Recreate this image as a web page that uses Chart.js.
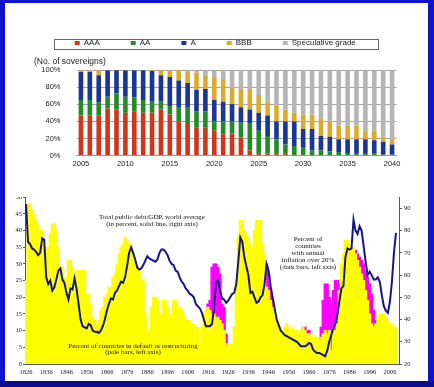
<!DOCTYPE html>
<html><head><meta charset="utf-8">
<script src="https://cdn.jsdelivr.net/npm/chart.js@4"></script>
<style>
html,body{margin:0;padding:0;background:#fff;}
#frame{position:absolute;left:0;top:0;width:434px;height:387px;background:#1212cc;}
#frame:after{content:"";position:absolute;left:0;top:381px;width:434px;height:6px;background:#0c0c8c;}
#inner{position:absolute;left:5px;top:3px;width:423px;height:378px;background:#fff;overflow:hidden;}
#top{position:absolute;left:0;top:0;}
#botwrap{position:absolute;left:0;top:193.5px;width:423px;height:184.5px;overflow:hidden;}
#bot{position:absolute;left:0;top:-12.5px;}
</style></head>
<body>
<div id="frame"><div id="inner">
<canvas id="top" width="423" height="173"></canvas>
<div id="botwrap"><canvas id="bot" width="423" height="197"></canvas></div>
</div></div>
<script>
// ---------- Top chart: sovereign ratings (%) ----------
const ratingYears = [2005,2006,2007,2008,2009,2010,2011,2012,2013,2014,2015,2016,2017,2018,2019,2020,2021,2022,2023,2024,2025,2026,2027,2028,2029,2030,2031,2032,2033,2034,2035,2036,2037,2038,2039,2040];
const aaa  = [47,47,47,55,54,50,52,50,50,54,48,40,38,33,33,29,25,26,21,6,2,2,2,2,0,0,0,0,0,0,0,0,0,0,0,0];
const aa   = [18,18,15,14,19,19,16,15,13,9,10,16,18,19,19,11,15,14,17.5,32,27,21,17,11,11,10,6,6,5,4,3,3,3,2,1,1];
const singleA = [33,33,32,31,27,31,32,35,36,31,34,32,29,25,26,25,23,20,18,16,21,24,21,27,29,21,25,17,17,15,16,16,16,16,15,12];
const bbb  = [2,2,6,0,0,0,0,0,1,6,8,12,13,20,16,27,27,19,21.5,24,21,16,18,14,10,17,17,20,18,16,16,16,10,11,6,6];
const spec = [0,0,0,0,0,0,0,0,0,0,0,0,2,3,6,8,10,21,22,22,29,37,42,46,50,52,52,57,60,65,65,65,71,71,78,81];
const pctTicks = [0,10,20,30,40,50,60,70,80,90,100];

// ---------- Bottom chart: 1826-2009 ----------
const histYears = [];
for (let y = 1826; y <= 2010; y++) histYears.push(String(y));
const defaultPct = [
 25,48,48,46,45,43,42,40,40,35,
 35,35,39,42,42,40,35,29,29,26,
 26,31,31,29,26,28,28,28,28,28,
 21,21,18,14,13,12,13,16,17,20,
 21,23,23,26,27,30,33,35,36,38,
 37,36,35,33,30,29,28,25,25,15,
 10,10,17,20,20,19,15,15,19,19,
 17,15,15,19,19,17,17,16,15,13,
 13,13,12,12,11,11,6,11,15,16,
 17,16,15,15,14,14,13,12,10,6,
 6,6,6,11,25,38,43,43,40,39,
 38,36,35,40,43,43,43,36,33,23,
 22,19,17,16,14,12,11,10,11,12,
 11,10,11,10,10,9,10,11,10,9,
 9,9,8,8,8,7,8,9,10,9,
 10,4,10,10,12,22,30,33,37,37,
 35,35,35,33,31,29,27,25,22,19,
 15,12,11,12,14,15,15,15,14,13,
 12,12,11,11];
const n = null;
const inflationPct = [
 n,n,n,n,n,n,n,n,n,n, n,n,n,n,n,n,n,n,n,n, n,n,n,n,n,n,n,n,n,n,
 n,n,n,n,n,n,n,n,n,n, n,n,n,n,n,n,n,n,n,n, n,n,n,n,n,n,n,n,n,n,
 n,n,n,n,n,n,n,n,n,n, n,n,n,n,n,n,n,n,n,n, n,n,n,n,n,n,n,n,n,n,
 18,19,29,30,30,29,27,18,17,9,
 n,n,n,n,n,n,n,n,n,n,
 n,n,n,n,n,n,n,n,30,30,
 27,22,19,n,n,n,n,n,n,n,
 n,n,n,n,n,n,n,11,11,10,
 10,n,n,n,n,n,11,19,24,24,
 20,18,22,25,25,24,22,n,n,n,
 n,n,34,34,33,32,31,30,28,26,
 24,21,16,13,n,n,n,n,n,n,
 n,n,n,n];
const debtGdp = [
 92,75,74,72,71.5,70.5,69,70,76.5,76,
 59,56,57.5,53,54.5,58,62,63,58,56.5,
 52,49,54,53.5,58.5,54,47,40,37,36.5,
 36,38,37.5,35,34.5,34.5,34,35,37,40,
 44,47,49.5,49,52,53,55,57,56.5,59,
 64,70,72.5,70,67,63.5,62.5,63,64.5,66.5,
 68.5,67.5,67,66.5,66,67,70,71.5,71.5,70.5,
 69,66.5,65,64.5,62,61.5,59,57,56,54,
 53,51.5,51,50,47,46,45,43,40,37,
 37,37,38,45,57,57.5,53,49.5,49,47.5,
 48.5,50,51.5,52,56,66,77,75,68,64,
 60,52,52.5,50,47.5,48,50,51,56,65,
 62,55,50,45,40,37.5,35,34,33,32.5,
 32,31.5,31,30.5,30,29,28,28,28,28.5,
 29.5,29,26.5,25.5,25,25,24.5,24,23.5,26,
 30,33,36,38,42,48,54,55,68,72,
 71.5,72,85,80,78.5,82,80,73,66,60,
 61.5,60,58,58,59,57,51,46,44,43,
 48,57,70,79];

const sans = 'Liberation Sans, Arial, sans-serif';
const serif = 'Liberation Serif, Times New Roman, serif';

const legendFrame = {
  id: 'legendFrame',
  afterDraw(chart) {
    const c = chart.ctx;
    c.save();
    c.strokeStyle = '#666';
    c.lineWidth = 1;
    c.strokeRect(49.5, 36.5, 324, 10);
    c.restore();
  }
};

new Chart(document.getElementById('top'), {
  type: 'bar',
  data: {
    labels: ratingYears.map(String),
    datasets: [
      {label: 'AAA', data: aaa, backgroundColor: '#d0361a'},
      {label: 'AA', data: aa, backgroundColor: '#218c26'},
      {label: 'A', data: singleA, backgroundColor: '#1a3795'},
      {label: 'BBB', data: bbb, backgroundColor: '#ddab2c'},
      {label: 'Speculative grade', data: spec, backgroundColor: '#b5b5b5'}
    ]
  },
  options: {
    animation: false, responsive: false,
    datasets: {bar: {barPercentage: 0.52, categoryPercentage: 1, borderWidth: 0}},
    layout: {padding: {top: 5, left: 29, right: 31.5, bottom: 0}},
    plugins: {
      legend: {weight: 3000, labels: {boxWidth: 5, boxHeight: 4, padding: 31, color: '#222', font: {family: sans, size: 8}}},
      title: {display: true, text: '(No. of sovereigns)', align: 'start', color: '#222', font: {family: sans, size: 8.5, weight: 'normal'}, padding: {top: 0, bottom: 3}},
      tooltip: {enabled: false}
    },
    scales: {
      x: {
        stacked: true,
        grid: {display: false, drawTicks: false},
        border: {display: true, color: '#9a9a9a'},
        ticks: {autoSkip: false, maxRotation: 0, minRotation: 0, padding: 4, color: '#222', font: {family: sans, size: 7.5},
          callback: function(v, i) { const y = ratingYears[i]; return y % 5 === 0 ? String(y) : ''; }},
        afterFit: s => { s.height = 17.5; }
      },
      y: {
        stacked: true, min: 0, max: 100,
        afterBuildTicks: s => { s.ticks = pctTicks.map(v => ({value: v})); },
        ticks: {padding: 16, color: '#222', font: {family: sans, size: 7.5}, callback: v => v + '%'},
        grid: {color: '#a4a4a4', drawTicks: false},
        border: {display: false},
        afterFit: s => { s.width = 42.5; }
      }
    }
  },
  plugins: [legendFrame]
});

const notes = {
  id: 'notes',
  afterDraw(chart) {
    const c = chart.ctx;
    c.save();
    c.fillStyle = '#111';
    c.font = '7px ' + serif;
    c.textAlign = 'center';
    c.textBaseline = 'middle';
    const blocks = [
      {x: 147, y: 32.7, lh: 7.3, t: ['Total public debt/GDP, world average', '(in percent, solid line, right axis)']},
      {x: 128, y: 161.7, lh: 6.8, t: ['Percent of countries in default or restructuring', '(pale bars, left axis)']},
      {x: 303, y: 55, lh: 7.1, t: ['Percent of', 'countries', 'with annual', 'inflation over 20%', '(dark bars, left axis)']}
    ];
    blocks.forEach(b => b.t.forEach((s, i) => c.fillText(s, b.x, b.y + i * b.lh)));
    c.restore();
  }
};

const axisFont = {family: serif, size: 6.5};
new Chart(document.getElementById('bot'), {
  type: 'bar',
  data: {
    labels: histYears,
    datasets: [
      {type: 'line', label: 'Total public debt/GDP', data: debtGdp, yAxisID: 'y2', borderColor: '#15158a', borderWidth: 2, pointRadius: 0, tension: 0, order: 0},
      {label: 'Default or restructuring', data: defaultPct, yAxisID: 'y', backgroundColor: '#ffff00', order: 1, grouped: false, barPercentage: 1, categoryPercentage: 1, borderWidth: 0, inflateAmount: 0.6},
      {label: 'Inflation over 20%', data: inflationPct, yAxisID: 'y', backgroundColor: '#ff00ff', order: 2, grouped: false, barPercentage: 1, categoryPercentage: 1, borderWidth: 0, inflateAmount: 0.6}
    ]
  },
  options: {
    animation: false, responsive: false,
    layout: {padding: {top: 13.3, left: 0, right: 0, bottom: 0}},
    plugins: {legend: {display: false}, title: {display: false}, tooltip: {enabled: false}},
    scales: {
      x: {
        grid: {display: false, drawTicks: false},
        border: {display: true, color: '#555'},
        ticks: {autoSkip: false, maxRotation: 0, minRotation: 0, padding: 4, color: '#222', font: axisFont,
          callback: function(v, i) { const y = 1826 + i; return (y - 1826) % 10 === 0 && y <= 2006 ? String(y) : ''; }},
        afterFit: s => { s.height = 17; }
      },
      y: {
        position: 'left', min: 0, max: 50,
        ticks: {stepSize: 5, padding: 1, color: '#222', font: axisFont},
        grid: {drawOnChartArea: false, tickLength: 2, color: '#555'},
        border: {display: true, color: '#555'},
        afterFit: s => { s.width = 20; }
      },
      y2: {
        position: 'right', min: 20, max: 95,
        ticks: {stepSize: 10, includeBounds: false, padding: 2, color: '#222', font: axisFont},
        grid: {drawOnChartArea: false, tickLength: 3, color: '#555'},
        border: {display: true, color: '#555'},
        afterFit: s => { s.width = 29; }
      }
    }
  },
  plugins: [notes]
});
</script>
</body></html>
